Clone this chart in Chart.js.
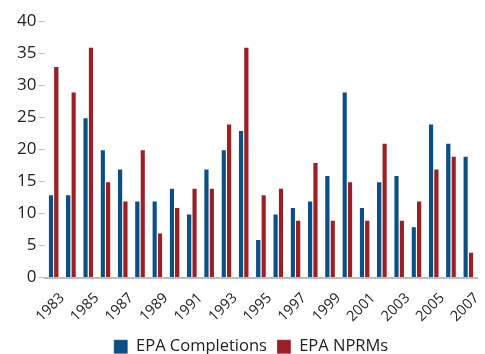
<!DOCTYPE html>
<html>
<head>
<meta charset="utf-8">
<script src="https://cdn.jsdelivr.net/npm/chart.js@4"></script>
<style>
  html, body { margin: 0; padding: 0; background: #fff; }
  #wrap { width: 485px; height: 354px; }
</style>
</head>
<body>
<div id="wrap"><canvas id="chart"></canvas></div>
<script>
const years = ['1983', '1984', '1985', '1986', '1987', '1988', '1989', '1990', '1991', '1992',
    '1993', '1994', '1995', '1996', '1997', '1998', '1999', '2000', '2001', '2002',
    '2003', '2004', '2005', '2006', '2007'];
const completions = [13, 13, 25, 20, 17, 12, 12, 14, 10, 17, 20, 23, 6, 10, 11, 12, 16, 29, 11, 15, 16, 8, 24, 21, 19];
const nprms = [33, 29, 36, 15, 12, 20, 7, 11, 14, 14, 24, 36, 13, 14, 9, 18, 9, 15, 9, 21, 9, 12, 17, 19, 4];
const yTicks = [0, 5, 10, 15, 20, 25, 30, 35, 40];

const fontFamily = '"Open Sans", "Noto Sans", sans-serif';
const ctx = document.getElementById('chart').getContext('2d');

new Chart(ctx, {
    type: 'bar',
    data: {
        labels: years,
        datasets: [{
            label: 'EPA Completions',
            data: completions,
            backgroundColor: '#0b4f87',
            borderColor: 'rgba(255,255,255,0.55)',
            borderWidth: { left: 0, right: 1, top: 1, bottom: 0 }
        }, {
            label: 'EPA NPRMs',
            data: nprms,
            backgroundColor: '#9b1f23',
            borderColor: 'rgba(255,255,255,0.55)',
            borderWidth: { left: 0, right: 1, top: 1, bottom: 0 }
        }]
    },
    options: {
        responsive: true,
        maintainAspectRatio: false,
        animation: false,
        layout: { padding: { left: 15, right: -2, top: 21, bottom: -11 } },
        datasets: {
            bar: { categoryPercentage: 0.62, barPercentage: 1.0 }
        },
        scales: {
            x: {
                grid: { display: false },
                border: { display: true, color: '#bdbdbd', width: 2 },
                // labels overflow into the legend band like the original
                afterFit: function (axis) {
                    axis.height = 51;
                },
                ticks: {
                    autoSkip: false,
                    maxRotation: 45,
                    minRotation: 45,
                    padding: 4,
                    labelOffset: 8,
                    color: '#222',
                    font: { family: fontFamily, size: 14.5 },
                    callback: function (value, index) {
                        return index % 2 === 0 ? years[index] : '';
                    }
                }
            },
            y: {
                min: 0,
                max: 40,
                afterBuildTicks: function (axis) {
                    axis.ticks = yTicks.map(v => ({ value: v }));
                },
                border: { display: false },
                grid: {
                    drawOnChartArea: false,
                    drawTicks: true,
                    tickLength: 7,
                    color: '#bdbdbd',
                    lineWidth: 1
                },
                ticks: {
                    padding: 2,
                    color: '#222',
                    font: { family: fontFamily, size: 17 }
                }
            }
        },
        plugins: {
            legend: {
                position: 'bottom',
                labels: {
                    boxWidth: 14,
                    boxHeight: 14,
                    padding: 10,
                    color: '#222',
                    font: { family: fontFamily, size: 16.5 }
                }
            },
            tooltip: { enabled: false }
        }
    }
});
</script>
</body>
</html>
